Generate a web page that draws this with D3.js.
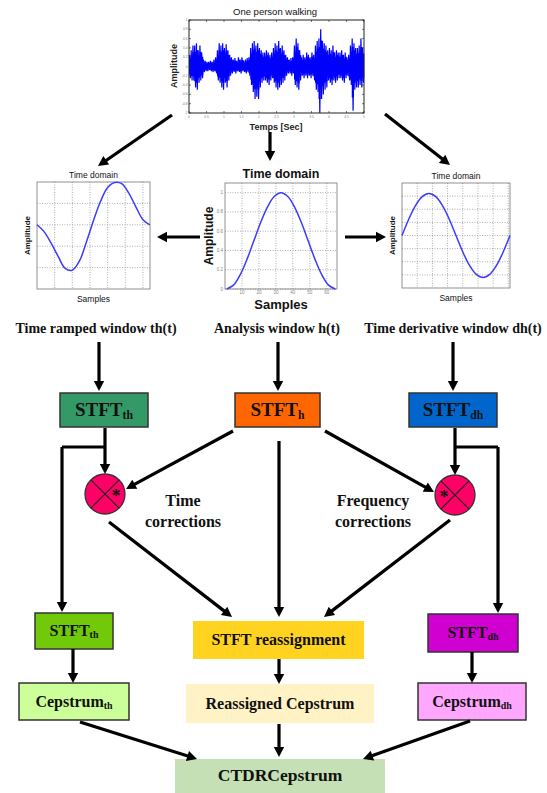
<!DOCTYPE html>
<html><head><meta charset="utf-8">
<script src="https://cdn.jsdelivr.net/npm/d3@7"></script>
<style>body{margin:0;background:#fff}svg{display:block}</style>
</head><body><svg id="c" width="547" height="793"></svg>
<script>
// ---------------- DATA ----------------
// "One person walking" signal: envelope per 0.05 s bin (upper / lower magnitude)
const signalUpper = [.25,.35,.45, .45,.5,.35,.45,.3, .15,.12,.1,.1,.12,.1,.15,.2,
  .35,.5,.45,.5,.4,.48,.35,.25, .2,.15,.18,.12,.2,.15,.2,.12,.15,.18,.2,
  .4,.5,.55,.45,.5,.4,.35,.3, .3,.35,.3,.25,.3, .4,.5,.45,.55,.4,.45,.35,.25,
  .2,.15,.18,.2, .45,.6,.5,.35, .2,.25,.2,.3,.25,.2,.3,.25,
  .45,.55,.6,.8,.55,.5,.45,.35, .4,.35,.45,.3,.35,.3, .3,.35,.25,.3,.2,.25,
  .45,.6,.5,.4, .4,.45,.6,.4];
const signalLower = [.25,.3,.3, .45,.5,.35,.3,.25, .12,.1,.1,.08,.1,.12,.1,.15,
  .3,.35,.45,.5,.35,.45,.3,.2, .15,.12,.15,.1,.12,.15,.1,.12,.15,.12,.2,
  .4,.55,.7,.65,.7,.45,.35,.3, .3,.35,.4,.3,.25, .35,.45,.5,.45,.4,.35,.3,.2,
  .15,.15,.2,.15, .4,.45,.5,.3, .2,.25,.2,.25,.2,.25,.2,.3,
  .5,.55,1.0,.7,.6,.5,.45,.3, .35,.4,.3,.35,.3,.25, .25,.3,.35,.25,.2,.3,
  .4,.95,.5,.45, .45,.4,.45,.35];
const signalBinSec = 0.05;
const signalXTicks = [0,0.5,1,1.5,2,2.5,3,3.5,4,4.5,5];
const signalYTicks = [-1,-0.8,-0.6,-0.4,-0.2,0,0.2,0.4,0.6,0.8,1];

// window shapes sampled every 4 samples
const winSamples    = [0,4,8,12,16,20,24,28,32,36,40,44,48,52,56,60,64];
const rampedWindow  = [0,-0.16,-0.43,-0.74,-1.02,-1.06,-0.85,-0.4,0.1,0.55,0.87,0.99,0.96,0.74,0.42,0.12,0];
const analysisSamples = [1,5,9,13,17,21,25,29,33,37,41,45,49,53,57,61,65];
const analysisWindow  = [0,.04,.15,.31,.5,.69,.85,.96,1,.96,.85,.69,.5,.31,.15,.04,0];
const derivWindow   = [0,.31,.57,.74,.8,.74,.57,.31,0,-.31,-.57,-.74,-.8,-.74,-.57,-.31,0];
const analysisXTicks = [10,20,30,40,50,60];
const analysisYTicks = [0,0.2,0.4,0.6,0.8,1];

const windowLabels = ["Time ramped window th(t)", "Analysis window h(t)", "Time derivative window dh(t)"];
const correctionLabels = [["Time","corrections"],["Frequency","corrections"]];

// ---------------- SETUP ----------------
const svg = d3.select("#c");
const SERIF = "'Liberation Serif','Times New Roman',serif";
const SANS = "'Liberation Sans',Arial,sans-serif";
const LW = 3.2;

function arrow(x1,y1,x2,y2){
  const hl=10, hw=5.2;
  const dx=x2-x1, dy=y2-y1, L=Math.hypot(dx,dy), ux=dx/L, uy=dy/L;
  const bx=x2-ux*hl, by=y2-uy*hl;
  svg.append("line").attr("x1",x1).attr("y1",y1).attr("x2",bx+ux*2).attr("y2",by+uy*2)
    .attr("stroke","#000").attr("stroke-width",LW);
  svg.append("path").attr("d",`M${x2},${y2}L${bx-uy*hw},${by+ux*hw}L${bx+uy*hw},${by-ux*hw}Z`).attr("fill","#000");
}
function polyArrow(pts){
  const p = pts.slice(0,-1);
  const last = pts[pts.length-1], prev = pts[pts.length-2];
  svg.append("path").attr("d", d3.line()(p)).attr("fill","none").attr("stroke","#000")
    .attr("stroke-width",LW).attr("stroke-linejoin","miter");
  arrow(prev[0],prev[1],last[0],last[1]);
}

// ---------------- TOP SIGNAL PLOT ----------------
{
  const x = d3.scaleLinear().domain([0,5]).range([189,364]);
  const y = d3.scaleLinear().domain([-1,1]).range([113,20]);
  const g = svg.append("g");
  // dense core of the signal
  g.selectAll("rect.core").data(signalUpper).join("rect")
    .attr("x",(d,i)=>x(i*signalBinSec))
    .attr("width",x(signalBinSec)-x(0)+0.3)
    .attr("y",(d,i)=>y(d*0.7))
    .attr("height",(d,i)=>y(-signalLower[i]*0.7)-y(d*0.7))
    .attr("fill","#0000ff");
  const pts = [];
  signalUpper.forEach((u,i)=>{
    pts.push([x(i*signalBinSec+0.0125), y(u)]);
    pts.push([x(i*signalBinSec+0.0375), y(-signalLower[i])]);
  });
  g.append("path").attr("d", d3.line()(pts)).attr("fill","none").attr("stroke","#0000ff").attr("stroke-width",1.2);
  g.append("rect").attr("x",x(0)).attr("y",y(1)).attr("width",x(5)-x(0)).attr("height",y(-1)-y(1))
    .attr("fill","none").attr("stroke","#222").attr("stroke-width",1);
  signalXTicks.forEach(t=>{
    g.append("line").attr("x1",x(t)).attr("x2",x(t)).attr("y1",y(-1)).attr("y2",y(-1)-2).attr("stroke","#222").attr("stroke-width",.6);
    g.append("line").attr("x1",x(t)).attr("x2",x(t)).attr("y1",y(1)).attr("y2",y(1)+2).attr("stroke","#222").attr("stroke-width",.6);
    g.append("text").attr("x",x(t)).attr("y",y(-1)+4.5).attr("text-anchor","middle").attr("font-size",3.2).attr("fill","#777").attr("font-family",SANS).text(t);
  });
  signalYTicks.forEach(t=>{
    g.append("line").attr("x1",x(0)).attr("x2",x(0)+2).attr("y1",y(t)).attr("y2",y(t)).attr("stroke","#222").attr("stroke-width",.6);
    g.append("line").attr("x1",x(5)).attr("x2",x(5)-2).attr("y1",y(t)).attr("y2",y(t)).attr("stroke","#222").attr("stroke-width",.6);
    g.append("text").attr("x",x(0)-1.5).attr("y",y(t)+1).attr("text-anchor","end").attr("font-size",3.2).attr("fill","#777").attr("font-family",SANS).text(t);
  });
  g.append("text").attr("x",275).attr("y",15).attr("text-anchor","middle").attr("font-family",SANS)
    .attr("font-size",9.5).attr("fill","#111").text("One person walking");
  g.append("text").attr("x",276).attr("y",129.5).attr("text-anchor","middle").attr("font-family",SANS)
    .attr("font-weight","bold").attr("font-size",9).attr("fill","#222").text("Temps [Sec]");
  g.append("text").attr("transform","translate(177,66) rotate(-90)").attr("text-anchor","middle").attr("font-family",SANS)
    .attr("font-weight","bold").attr("font-size",9).attr("fill","#222").text("Amplitude");
}

// ---------------- WINDOW PLOTS ----------------
function windowPlot(o){
  const x = d3.scaleLinear().domain(o.xd).range([o.x0,o.x1]);
  const y = d3.scaleLinear().domain(o.yd).range([o.y1,o.y0]);
  const g = svg.append("g");
  o.xg.forEach(t=> g.append("line").attr("x1",x(t)).attr("x2",x(t)).attr("y1",o.y0).attr("y2",o.y1)
     .attr("stroke","#8a8a8a").attr("stroke-width",.7).attr("stroke-dasharray","1,1.5"));
  o.yg.forEach(t=> g.append("line").attr("y1",y(t)).attr("y2",y(t)).attr("x1",o.x0).attr("x2",o.x1)
     .attr("stroke","#8a8a8a").attr("stroke-width",.7).attr("stroke-dasharray","1,1.5"));
  g.append("rect").attr("x",o.x0).attr("y",o.y0).attr("width",o.x1-o.x0).attr("height",o.y1-o.y0)
    .attr("fill","none").attr("stroke","#777").attr("stroke-width",.8);
  if (o.labels){
    o.xg.forEach(t=> g.append("text").attr("x",x(t)).attr("y",o.y1+5).attr("text-anchor","middle")
      .attr("font-size",4.5).attr("fill","#888").attr("font-family",SANS).text(t));
    o.yg.forEach(t=> g.append("text").attr("x",o.x0-2).attr("y",y(t)+1.5).attr("text-anchor","end")
      .attr("font-size",4.5).attr("fill","#888").attr("font-family",SANS).text(t));
  }
  const pts = o.xs.map((s,i)=>[x(s), y(o.ys[i])]);
  g.append("path").attr("d", d3.line().curve(d3.curveCatmullRom)(pts)).attr("fill","none")
    .attr("stroke","#3b3bff").attr("stroke-width",1.5);
  const cx = (o.x0+o.x1)/2;
  g.append("text").attr("x",cx).attr("y",o.titleY).attr("text-anchor","middle").attr("font-family",SANS)
    .attr("font-weight",o.bold?"bold":"normal").attr("font-size",o.fs).attr("fill","#111").text("Time domain");
  g.append("text").attr("x",cx).attr("y",o.samplesY).attr("text-anchor","middle").attr("font-family",SANS)
    .attr("font-weight",o.bold?"bold":"normal").attr("font-size",o.fs2).attr("fill","#111").text("Samples");
  g.append("text").attr("transform",`translate(${o.ampX},${(o.y0+o.y1)/2}) rotate(-90)`).attr("text-anchor","middle")
    .attr("font-family",SANS).attr("font-weight","bold").attr("font-size",o.fs3).attr("fill","#111").text("Amplitude");
}
windowPlot({x0:37,x1:150,y0:182,y1:289,xd:[0,64],yd:[-1.5,1],xg:[10,20,30,40,50,60],yg:[-1,-0.5,0,0.5],
  xs:winSamples,ys:rampedWindow,titleY:178,samplesY:302,ampX:30,fs:8.5,fs2:8.5,fs3:8});
windowPlot({x0:225,x1:337,y0:183,y1:289,xd:[0,66],yd:[0,1.1],xg:analysisXTicks,yg:analysisYTicks,labels:true,
  xs:analysisSamples,ys:analysisWindow,titleY:178,samplesY:309,ampX:213,fs:12.5,fs2:13,fs3:12,bold:true});
windowPlot({x0:402,x1:510,y0:183,y1:288,xd:[0,64],yd:[-1,1],xg:[9,18,27,36,45,54,63],yg:[-0.75,-0.5,-0.25,0,0.25,0.5,0.75],
  xs:winSamples,ys:derivWindow,titleY:179,samplesY:301,ampX:395,fs:8.5,fs2:8.5,fs3:8});

// ---------------- TOP ARROWS ----------------
arrow(172,115,98,166);
arrow(270,132,270,161);
arrow(385,114,450,165);
arrow(200,237,157,237);
arrow(345,237,386,237);

// ---------------- WINDOW LABELS ----------------
const labelX = [96,277,453];
windowLabels.forEach((t,i)=>{
  svg.append("text").attr("x",labelX[i]).attr("y",333).attr("text-anchor","middle").attr("font-family",SERIF)
    .attr("font-weight","bold").attr("font-size",14).attr("fill","#111").text(t);
});
const arrowX = [99,278,453];
arrowX.forEach(x=>arrow(x,342,x,391));

// ---------------- BOXES ----------------
function box(b){
  svg.append("rect").attr("x",b.x).attr("y",b.y).attr("width",b.w).attr("height",b.h)
    .attr("fill",b.fill).attr("stroke",b.stroke||"none").attr("stroke-width",b.stroke?1.5:0);
  const ty = b.ty !== undefined ? b.ty : b.y+b.h/2+b.fs*0.33;
  const t = svg.append("text").attr("x",b.x+b.w/2).attr("y",ty)
    .attr("text-anchor","middle").attr("font-family",SERIF).attr("font-weight","bold").attr("font-size",b.fs).attr("fill","#111");
  t.append("tspan").text(b.label);
  if (b.sub) t.append("tspan").attr("font-size",b.fs*0.62).attr("dy",b.fs*0.12).text(b.sub);
}
const boxes = [
  {x:60,y:393,w:88,h:34,fill:"#339966",stroke:"#333",label:"STFT",sub:"th",fs:19},
  {x:235,y:393,w:85,h:34,fill:"#ff6600",stroke:"#333",label:"STFT",sub:"h",fs:19},
  {x:409,y:393,w:88,h:34,fill:"#0066cc",stroke:"#333",label:"STFT",sub:"dh",fs:19},
  {x:35,y:613,w:78,h:36,fill:"#72c90a",stroke:"#333",label:"STFT",sub:"th",fs:16},
  {x:193,y:621,w:171,h:38,fill:"#ffd320",label:"STFT reassignment",fs:16},
  {x:428,y:614,w:90,h:38,fill:"#d000d0",stroke:"#333",label:"STFT",sub:"dh",fs:16},
  {x:19,y:683,w:110,h:37,fill:"#ccff99",stroke:"#333",label:"Cepstrum",sub:"th",fs:16},
  {x:186,y:684,w:188,h:39,fill:"#fff2c4",label:"Reassigned Cepstrum",fs:16},
  {x:418,y:683,w:108,h:37,fill:"#ffa6ff",stroke:"#333",label:"Cepstrum",sub:"dh",fs:16},
  {x:175,y:759,w:210,h:45,fill:"#c5e0b4",label:"CTDRCepstrum",fs:17.5,ty:781},
];
boxes.forEach(box);

// ---------------- MIDDLE CONNECTIONS ----------------
arrow(105,428,105,474);
polyArrow([[106,447],[62,447],[62,612]]);
arrow(455,428,455,475);
polyArrow([[454,447],[498,447],[498,613]]);
arrow(233,431,126,489);
arrow(325,431,434,492);
arrow(279,441,279,617);
arrow(109,522,232,617);
arrow(450,520,324,617);

// multiply circles
function mult(cx,cy,side){
  const r=20;
  svg.append("circle").attr("cx",cx).attr("cy",cy).attr("r",r).attr("fill","#ff0066").attr("stroke","#333").attr("stroke-width",1.3);
  const d=r*Math.SQRT1_2;
  [[-d,-d,d,d],[-d,d,d,-d]].forEach(a=>svg.append("line").attr("x1",cx+a[0]).attr("y1",cy+a[1]).attr("x2",cx+a[2]).attr("y2",cy+a[3])
    .attr("stroke","#222").attr("stroke-width",1.2));
  svg.append("text").attr("x",cx+side*11).attr("y",cy+8).attr("text-anchor","middle").attr("font-family",SERIF)
    .attr("font-weight","bold").attr("font-size",18).attr("fill","#111").text("*");
}
mult(105,494,1);
mult(455,495,-1);

const corrX = [183,373];
correctionLabels.forEach((ls,i)=>ls.forEach((t,j)=>
  svg.append("text").attr("x",corrX[i]).attr("y",506+j*21).attr("text-anchor","middle").attr("font-family",SERIF)
    .attr("font-weight","bold").attr("font-size",16).attr("fill","#111").text(t)));

// ---------------- BOTTOM CONNECTIONS ----------------
arrow(73,649,73,683);
arrow(279,659,279,684);
arrow(472,652,472,683);
arrow(80,722,197,759);
arrow(279,724,279,757);
arrow(470,721,363,759);
</script></body></html>
